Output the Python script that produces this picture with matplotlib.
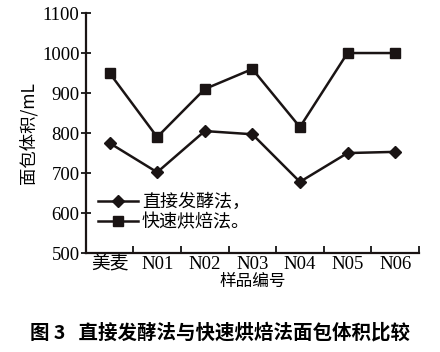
import matplotlib
matplotlib.use("Agg")
import matplotlib.pyplot as plt
import numpy as np

categories = ["美麦", "N01", "N02", "N03", "N04", "N05", "N06"]
direct_ferment = [775, 702, 805, 797, 678, 750, 753]
fast_bake = [950, 790, 910, 960, 815, 1000, 1000]
y_ticks = [500, 600, 700, 800, 900, 1000, 1100]

cjk = ["Noto Sans CJK SC", "DejaVu Sans"]
serif = ["Liberation Serif", "Noto Sans CJK SC"]

fig = plt.figure(figsize=(4.4, 3.52), dpi=100)
ax = fig.add_axes([0.195, 0.281, 0.757, 0.682])

x = np.arange(len(categories))
ax.plot(x, direct_ferment, color="#1a1414", lw=1.8, marker="D", ms=6,
        label="直接发酵法，")
ax.plot(x, fast_bake, color="#1a1414", lw=1.8, marker="s", ms=7,
        label="快速烘焙法。")

ax.set_xlim(-0.5, len(categories) - 0.5)
ax.set_ylim(500, 1100)
ax.set_yticks(y_ticks)
ax.set_yticklabels([str(v) for v in y_ticks], family=serif, fontsize=13.5)

ax.set_xticks(x)
ax.set_xticklabels(categories, family=serif, fontsize=13.5)
ax.tick_params(axis="x", length=0, pad=2)
ax.set_xticks(np.arange(len(categories) + 1) - 0.5, minor=True)
ax.tick_params(axis="x", which="minor", direction="in", length=5, width=1.2)
ax.tick_params(axis="y", direction="inout", length=7, width=1.2, pad=1)

for side in ["top", "right"]:
    ax.spines[side].set_visible(False)
for side in ["left", "bottom"]:
    ax.spines[side].set_linewidth(1.6)
    ax.spines[side].set_color("#1a1414")

ax.set_ylabel("面包体积/mL", family=cjk, fontsize=12.5, labelpad=3)
ax.set_xlabel("样品编号", family=cjk, fontsize=12, labelpad=0)

ax.legend(loc="lower left", bbox_to_anchor=(0.0, 0.04), frameon=False,
          prop={"family": cjk, "size": 13}, handlelength=2.2,
          handletextpad=0.2, labelspacing=0.1, borderaxespad=0.3)

fig.text(0.5, 0.055, "图 3   直接发酵法与快速烘焙法面包体积比较", family=cjk,
         fontsize=14, fontweight="bold", ha="center", va="center")

fig.savefig("out.png", dpi=100)
